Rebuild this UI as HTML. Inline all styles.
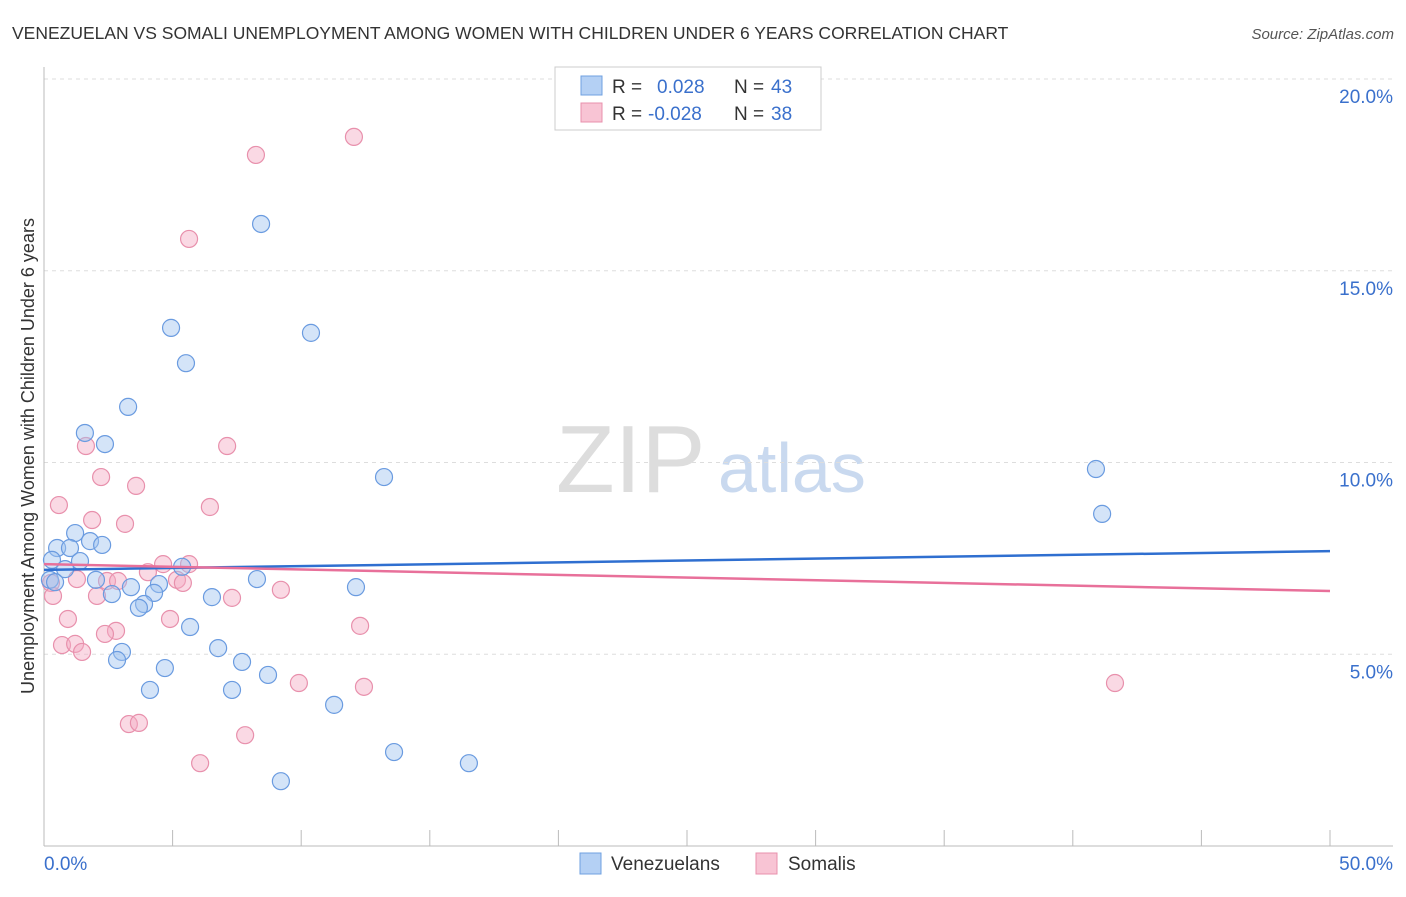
<!DOCTYPE html>
<html><head><meta charset="utf-8"><style>
body{margin:0;background:#fff;font-family:"Liberation Sans",sans-serif}
svg text{font-family:"Liberation Sans",sans-serif}
</style></head><body>
<svg id="c" width="1406" height="892">
<text x="12" y="39" font-size="17.5" fill="#333">VENEZUELAN VS SOMALI UNEMPLOYMENT AMONG WOMEN WITH CHILDREN UNDER 6 YEARS CORRELATION CHART</text>
<text x="1394" y="39" font-size="15" fill="#555" font-style="italic" text-anchor="end">Source: ZipAtlas.com</text>
<text x="34" y="456" font-size="18" fill="#333" text-anchor="middle" transform="rotate(-90 34 456)">Unemployment Among Women with Children Under 6 years</text>
<text x="556" y="492" font-size="96" fill="#ddd" font-family="Liberation Serif">ZIP</text>
<text x="718" y="492" font-size="70" fill="#c9d9ef">atlas</text>
<g id="grid"></g><g id="axes"></g><g id="pts"></g><g id="lines"></g>
<g>
<rect x="555" y="67" width="266" height="63" fill="#fff" stroke="#ccc"/>
<rect x="581" y="76" width="21" height="19" fill="#b4d0f4" stroke="#6fa0e0"/>
<rect x="581" y="103" width="21" height="19" fill="#f8c4d4" stroke="#e890ac"/>
<text x="612" y="93" font-size="19" fill="#333">R =</text><text x="657" y="93" font-size="19" fill="#3a70cc">0.028</text>
<text x="734" y="93" font-size="19" fill="#333">N =</text><text x="771" y="93" font-size="19" fill="#3a70cc">43</text>
<text x="612" y="120" font-size="19" fill="#333">R =</text><text x="648" y="120" font-size="19" fill="#3a70cc">-0.028</text>
<text x="734" y="120" font-size="19" fill="#333">N =</text><text x="771" y="120" font-size="19" fill="#3a70cc">38</text>
</g>
<g>
<rect x="580" y="853" width="21" height="21" fill="#b4d0f4" stroke="#6fa0e0"/>
<text x="611" y="870" font-size="19" fill="#333">Venezuelans</text>
<rect x="756" y="853" width="21" height="21" fill="#f8c4d4" stroke="#e890ac"/>
<text x="788" y="870" font-size="19" fill="#333">Somalis</text>
</g>
</svg>
<script>
const yTicks=[5,10,15,20];
const yTickLabels=["5.0%","10.0%","15.0%","20.0%"];
const xTickLabels=["0.0%","50.0%"];
const venX=[8.44,4.94,10.38,5.52,3.27,1.59,2.37,13.22,40.9,41.14,1.21,1.79,2.26,0.51,1.01,1.4,0.31,0.82,5.37,8.28,0.23,0.43,2.02,3.38,4.47,12.13,2.64,4.28,6.53,3.89,3.69,5.68,6.77,7.7,3.03,2.84,4.7,8.71,4.12,7.31,11.28,13.61,16.52,9.21];
const venY=[16.22,13.51,13.38,12.59,11.45,10.77,10.48,9.62,9.83,8.66,8.16,7.95,7.85,7.77,7.77,7.43,7.46,7.22,7.28,6.96,6.94,6.88,6.94,6.75,6.83,6.75,6.57,6.6,6.49,6.31,6.21,5.71,5.16,4.8,5.06,4.85,4.64,4.46,4.07,4.07,3.68,2.45,2.16,1.69];
const somX=[12.05,8.24,5.64,7.12,1.63,2.22,3.58,0.58,6.45,1.87,3.15,4.63,4.04,5.64,1.28,2.45,2.88,5.17,5.4,0.27,0.35,2.06,7.31,9.21,4.9,0.93,12.29,2.8,2.37,0.7,1.21,1.48,9.91,12.44,41.64,7.82,3.3,3.69,6.07];
const somY=[18.49,18.02,15.83,10.43,10.43,9.62,9.39,8.89,8.84,8.5,8.4,7.35,7.14,7.35,6.96,6.91,6.91,6.94,6.86,6.86,6.52,6.52,6.47,6.68,5.92,5.92,5.74,5.61,5.53,5.24,5.27,5.06,4.25,4.15,4.25,2.89,3.18,3.21,2.16];
const venTrend=[7.2,7.69];
const somTrend=[7.35,6.65];
const NS="http://www.w3.org/2000/svg";
const X=v=>44+v*25.72, Y=v=>846-v*38.35;
function mk(g,t,a){const e=document.createElementNS(NS,t);for(const k in a)e.setAttribute(k,a[k]);document.getElementById(g).appendChild(e);return e;}
yTicks.forEach((t,i)=>{
 const l=mk('grid','line',{x1:44,x2:1393,y1:Y(t),y2:Y(t),stroke:'#ddd','stroke-dasharray':'4 4'});
 
 
 const tx=mk('grid','text',{x:1393,y:Y(t)+24,'font-size':19,fill:'#3a70cc','text-anchor':'end'});tx.textContent=yTickLabels[i];
 
 
});
mk('axes','line',{x1:44,x2:44,y1:67,y2:846,stroke:'#bbb'});
mk('axes','line',{x1:44,x2:1393,y1:846,y2:846,stroke:'#bbb'});
for(let i=0;i<=10;i++){mk('axes','line',{x1:X(i*5),x2:X(i*5),y1:830,y2:846,stroke:'#bbb'});}
const xl0=mk('axes','text',{x:44,y:870,'font-size':19,fill:'#3a70cc'});xl0.textContent=xTickLabels[0];


const xl1=mk('axes','text',{x:1393,y:870,'font-size':19,fill:'#3a70cc','text-anchor':'end'});xl1.textContent=xTickLabels[1];


somX.forEach((x,i)=>{const c=mk('pts','circle',{cx:X(x),cy:Y(somY[i]),r:8.5,fill:'rgba(244,170,196,0.45)',stroke:'#e890ac','stroke-width':1.2});
 
 });
venX.forEach((x,i)=>{const c=mk('pts','circle',{cx:X(x),cy:Y(venY[i]),r:8.5,fill:'rgba(160,196,240,0.45)',stroke:'#6a9be0','stroke-width':1.2});
 
 });
const l1=mk('lines','line',{x1:X(0),x2:X(50),y1:Y(venTrend[0]),y2:Y(venTrend[1]),stroke:'#2f6fd0','stroke-width':2.5});


const l2=mk('lines','line',{x1:X(0),x2:X(50),y1:Y(somTrend[0]),y2:Y(somTrend[1]),stroke:'#e8709a','stroke-width':2.5});


</script>
</body></html>
